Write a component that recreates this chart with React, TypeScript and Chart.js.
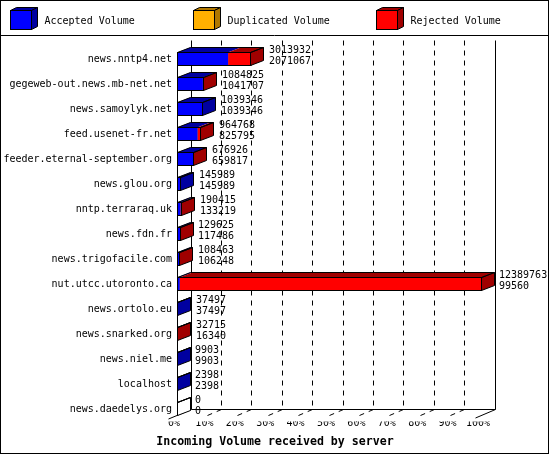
import React, { useEffect, useRef } from "react";
import { Chart, registerables } from "chart.js";

Chart.register(...registerables);

// ---- data ----
const servers = [
  "news.nntp4.net",
  "gegeweb-out.news.mb-net.net",
  "news.samoylyk.net",
  "feed.usenet-fr.net",
  "feeder.eternal-september.org",
  "news.glou.org",
  "nntp.terraraq.uk",
  "news.fdn.fr",
  "news.trigofacile.com",
  "nut.utcc.utoronto.ca",
  "news.ortolo.eu",
  "news.snarked.org",
  "news.niel.me",
  "localhost",
  "news.daedelys.org",
];
const incomingVolume = [3013932, 1084825, 1039346, 964768, 676926, 145989, 190415, 129625, 108463, 12389763, 37497, 32715, 9903, 2398, 0];
const acceptedVolume = [2071067, 1041707, 1039346, 825795, 659817, 145989, 133219, 117486, 106248, 99560, 37497, 16340, 9903, 2398, 0];
const duplicatedVolume = [0, 0, 0, 0, 0, 0, 0, 0, 0, 0, 0, 0, 0, 0, 0];
const rejectedVolume = [942865, 43118, 0, 138973, 17109, 0, 57196, 12139, 2215, 12290203, 0, 16375, 0, 0, 0];
const seriesNames = ["Accepted Volume", "Duplicated Volume", "Rejected Volume"];
const percentTicks = [0, 10, 20, 30, 40, 50, 60, 70, 80, 90, 100];
const axisTitle = "Incoming Volume received by server";

// ---- style ----
const FONT = "'DejaVu Sans Mono', monospace";
const frontColors = ["#0000ff", "#ffb000", "#ff0000"];
const darkColors = ["#0000a0", "#b07800", "#a00000"];
const DX = 13, DY = 5; // bar depth
const WX = 14, WY = 6; // wall depth

const maxVolume = Math.max(...incomingVolume);
const toPct = (arr: number[]) => arr.map((v) => (v / maxVolume) * 100);

function poly(ctx: CanvasRenderingContext2D, pts: number[][], fill?: string, stroke = true) {
  ctx.beginPath();
  ctx.moveTo(pts[0][0], pts[0][1]);
  for (let i = 1; i < pts.length; i++) ctx.lineTo(pts[i][0], pts[i][1]);
  ctx.closePath();
  if (fill) {
    ctx.fillStyle = fill;
    ctx.fill();
  }
  if (stroke) ctx.stroke();
}

const frame3d = {
  id: "frame3d",
  beforeDatasetsDraw(chart: any) {
    const { ctx, chartArea: ca } = chart;
    const x = chart.scales.x;
    const y = chart.scales.y;
    const half = 6.5;
    const firstTop = Math.floor(y.getPixelForValue(0) - half) + 0.5;
    const floorF = Math.floor(y.getPixelForValue(servers.length - 1) + half) + 0.5;
    const floorB = floorF - WY;
    const backTop = Math.floor(ca.top - WY) + 0.5;
    const L = Math.floor(x.getPixelForValue(0)) + 0.5;
    const R = Math.floor(x.getPixelForValue(100)) + 0.5;
    ctx.save();
    ctx.strokeStyle = "#000";
    ctx.lineWidth = 1;
    ctx.setLineDash([5, 5]);
    for (const t of percentTicks.slice(1, -1)) {
      const px = Math.floor(x.getPixelForValue(t)) + 0.5;
      ctx.beginPath();
      ctx.moveTo(px + WX, backTop);
      ctx.lineTo(px + WX, floorB);
      ctx.stroke();
      ctx.beginPath();
      ctx.moveTo(px, floorF);
      ctx.lineTo(px + WX, floorB);
      ctx.stroke();
    }
    ctx.setLineDash([]);
    ctx.beginPath();
    ctx.moveTo(L, firstTop);
    ctx.lineTo(L, floorF);
    ctx.moveTo(L + WX, backTop);
    ctx.lineTo(L + WX, floorB);
    ctx.lineTo(R + WX, floorB);
    ctx.lineTo(R + WX, backTop);
    ctx.moveTo(L - 9, floorF + 3.5);
    ctx.lineTo(L + WX, floorB);
    ctx.moveTo(R + WX, floorB);
    ctx.lineTo(R - 6, floorF + 2.5);
    ctx.stroke();
    ctx.restore();
  },
  afterDatasetsDraw(chart: any) {
    const { ctx } = chart;
    const metas = chart.data.datasets.map((_: any, i: number) => chart.getDatasetMeta(i));
    ctx.save();
    ctx.strokeStyle = "#000";
    ctx.lineWidth = 1;
    for (let i = 0; i < servers.length; i++) {
      const segs = metas.map((m: any, d: number) => {
        const p = m.data[i].getProps(["x", "base", "y", "height"], true);
        return { d, x0: Math.min(p.x, p.base), x1: Math.max(p.x, p.base), y: p.y, h: p.height };
      });
      const yc = segs[0].y;
      const h = segs[0].h;
      const T = Math.floor(yc - h / 2) + 0.5;
      const B = Math.floor(yc + h / 2) + 0.5;
      const startX = Math.min(...segs.map((s: any) => s.x0));
      const endX = Math.max(...segs.map((s: any) => s.x1));
      const L = Math.floor(startX) + 0.5;
      const R = Math.max(L, Math.floor(endX) + 0.5);
      const visible = segs.filter((s: any) => s.x1 - s.x0 > 0.05);
      for (const s of visible) {
        poly(ctx, [[s.x0, T], [s.x0 + DX, T - DY], [s.x1 + DX, T - DY], [s.x1, T]], darkColors[s.d], false);
      }
      const last = visible.length ? visible[visible.length - 1] : null;
      poly(ctx, [[R, T], [R + DX, T - DY], [R + DX, B - DY], [R, B]], last ? darkColors[last.d] : "#ffffff");
      poly(ctx, [[L, T], [L + DX, T - DY], [R + DX, T - DY], [R, T]]);
      ctx.strokeRect(L, T, R - L, B - T);

      ctx.fillStyle = "#000";
      ctx.font = `10px ${FONT}`;
      ctx.textAlign = "left";
      ctx.textBaseline = "middle";
      const lx = Math.round(endX + 18);
      ctx.fillText(String(incomingVolume[i]), lx, yc - 9);
      ctx.fillText(String(acceptedVolume[i]), lx, yc + 2);
    }
    ctx.restore();
  },
  afterDraw(chart: any) {
    const { ctx } = chart;
    ctx.save();
    ctx.strokeStyle = "#000";
    ctx.lineWidth = 1;
    // legend
    chart.data.datasets.forEach((ds: any, d: number) => {
      const bx = 10.5 + 183 * d, by = 10.5, w = 21, hh = 19, dx = 6, dy = 3;
      poly(ctx, [[bx, by], [bx + dx, by - dy], [bx + w + dx, by - dy], [bx + w, by]], darkColors[d]);
      poly(ctx, [[bx + w, by], [bx + w + dx, by - dy], [bx + w + dx, by + hh - dy], [bx + w, by + hh]], darkColors[d]);
      ctx.fillStyle = frontColors[d];
      ctx.fillRect(bx, by, w, hh);
      ctx.strokeRect(bx, by, w, hh);
      ctx.fillStyle = "#000";
      ctx.font = `10px ${FONT}`;
      ctx.textAlign = "left";
      ctx.textBaseline = "middle";
      ctx.fillText(ds.label, bx + 34, 21);
    });
    ctx.beginPath();
    ctx.moveTo(0, 35.5);
    ctx.lineTo(549, 35.5);
    ctx.stroke();
    ctx.strokeRect(0.5, 0.5, 548, 453);
    // axis title
    ctx.fillStyle = "#000";
    ctx.font = `bold 11.6px ${FONT}`;
    ctx.textAlign = "center";
    ctx.textBaseline = "middle";
    ctx.fillText(axisTitle, 275, 442);
    ctx.restore();
  },
};

export default function App() {
  const ref = useRef<HTMLCanvasElement>(null);
  useEffect(() => {
    document.body.style.margin = "0";
    const seriesData = [toPct(acceptedVolume), toPct(duplicatedVolume), toPct(rejectedVolume)];
    const chart = new Chart(ref.current as HTMLCanvasElement, {
      type: "bar",
      data: {
        labels: servers,
        datasets: seriesNames.map((name, d) => ({
          label: name,
          data: seriesData[d],
          backgroundColor: frontColors[d],
          borderWidth: 0,
          barThickness: 13,
          stack: "vol",
        })),
      },
      options: {
        indexAxis: "y",
        animation: false,
        responsive: false,
        devicePixelRatio: 1,
        layout: { padding: { top: 46.5, right: 69, left: 0, bottom: 0 } },
        plugins: {
          legend: { display: false },
          tooltip: { enabled: false },
          title: { display: false },
        },
        scales: {
          x: {
            stacked: true,
            min: 0,
            max: 100,
            afterBuildTicks: (scale: any) => {
              scale.ticks = percentTicks.map((v) => ({ value: v }));
            },
            ticks: {
              callback: (v: any) => `${v}%`,
              font: { family: FONT, size: 10 },
              color: "#000",
              padding: -4,
              labelOffset: -3,
              maxRotation: 0,
              autoSkip: false,
            },
            grid: { display: false, drawTicks: false },
            border: { display: false },
            afterFit: (scale: any) => {
              scale.height = 33.5;
            },
          },
          y: {
            stacked: true,
            ticks: {
              font: { family: FONT, size: 10 },
              color: "#000",
              padding: 5,
              autoSkip: false,
            },
            grid: { display: false, drawTicks: false },
            border: { display: false },
            afterFit: (scale: any) => {
              scale.width = 177;
            },
          },
        },
      } as any,
      plugins: [frame3d],
    });
    return () => chart.destroy();
  }, []);
  return (
    <div style={{ position: "absolute", left: 0, top: 0, width: 550, height: 455, background: "#fff" }}>
      <canvas ref={ref} width={550} height={455} style={{ display: "block", width: 550, height: 455 }} />
    </div>
  );
}
